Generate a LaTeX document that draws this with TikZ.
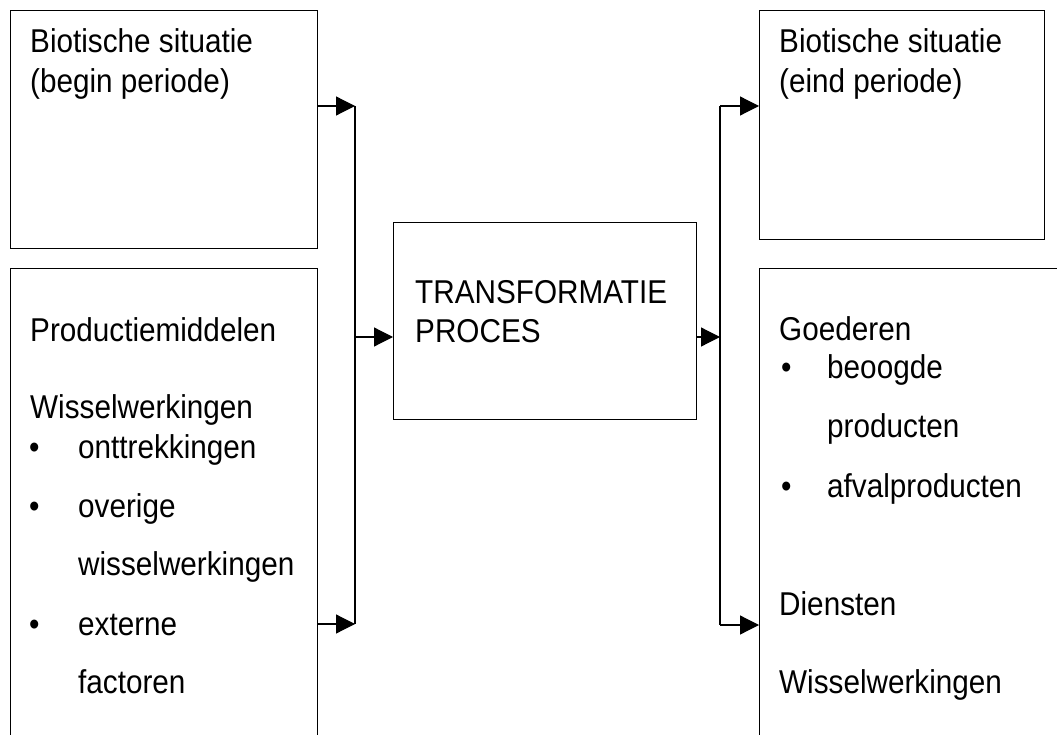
\documentclass[tikz,border=0pt]{standalone}
\usepackage{fontspec}
\setmainfont{Liberation Sans}[FakeStretch=0.9]
\usetikzlibrary{arrows.meta}

\begin{document}
\begin{tikzpicture}[x=1pt,y=-1pt,
  box/.style={draw, line width=1.4pt, inner sep=0pt, anchor=north west},
  conn/.style={line width=1.2pt},
  arr/.style={conn, -{Triangle[length=19pt,width=19pt]}},
  lbl/.style={anchor=base west, inner sep=0pt, font=\fontsize{33}{39}\selectfont}]

\useasboundingbox (0,0) rectangle (1057,735);
\clip (0,0) rectangle (1057,735);

% boxes
\node[box, minimum width=307pt, minimum height=238pt] (tl) at (10,10) {};
\node[box, minimum width=307pt, minimum height=500pt] (bl) at (10,268) {};
\node[box, minimum width=303pt, minimum height=197pt] (tc) at (393,222) {};
\node[box, minimum width=285pt, minimum height=229pt] (tr) at (759,10) {};
\node[box, minimum width=320pt, minimum height=500pt] (br) at (759,268) {};

% collector lines
\coordinate (la) at (355,106);
\coordinate (lm) at (355,337);
\coordinate (lb) at (355,624);
\coordinate (ra) at (720,106);
\coordinate (rm) at (720,337);
\coordinate (rb) at (720,625);

\draw[conn] (la) -- (lb);
\draw[arr] (tl.east |- la) -- (la);
\draw[arr] (bl.east |- lb) -- (lb);
\draw[arr] (lm) -- (tc.west |- lm);
\draw[arr] (tc.east |- rm) -- (rm);
\draw[conn] (ra) -- (rb);
\draw[arr] (ra) -- (tr.west |- ra);
\draw[arr] (rb) -- (br.west |- rb);

% texts: begin situation
\node[lbl] (tl1) at (30,53) {Biotische situatie};
\node[lbl] (tl2) at (30,93) {(begin periode)};

% texts: inputs
\node[lbl] (bl1) at (30,341) {Productiemiddelen};
\node[lbl] (bl2) at (30,418) {Wisselwerkingen};
\node[lbl] (bl3b) at (29,458) {•};
\node[lbl] (bl3) at (78,458) {onttrekkingen};
\node[lbl] (bl4b) at (29,517) {•};
\node[lbl] (bl4) at (78,517) {overige};
\node[lbl] (bl5) at (78,575) {wisselwerkingen};
\node[lbl] (bl6b) at (29,635) {•};
\node[lbl] (bl6) at (78,635) {externe};
\node[lbl] (bl7) at (78,693) {factoren};

% texts: process
\node[lbl] (tc1) at (415,303) {TRANSFORMATIE};
\node[lbl] (tc2) at (415,342) {PROCES};

% texts: end situation
\node[lbl] (tr1) at (779,53) {Biotische situatie};
\node[lbl] (tr2) at (779,93) {(eind periode)};

% texts: outputs
\node[lbl] (br1) at (779,340) {Goederen};
\node[lbl] (br2b) at (781,378) {•};
\node[lbl] (br2) at (827,378) {beoogde};
\node[lbl] (br3) at (827,437) {producten};
\node[lbl] (br4b) at (781,497) {•};
\node[lbl] (br4) at (827,497) {afvalproducten};
\node[lbl] (br5) at (779,615) {Diensten};
\node[lbl] (br6) at (779,693) {Wisselwerkingen};
\end{tikzpicture}
\end{document}
